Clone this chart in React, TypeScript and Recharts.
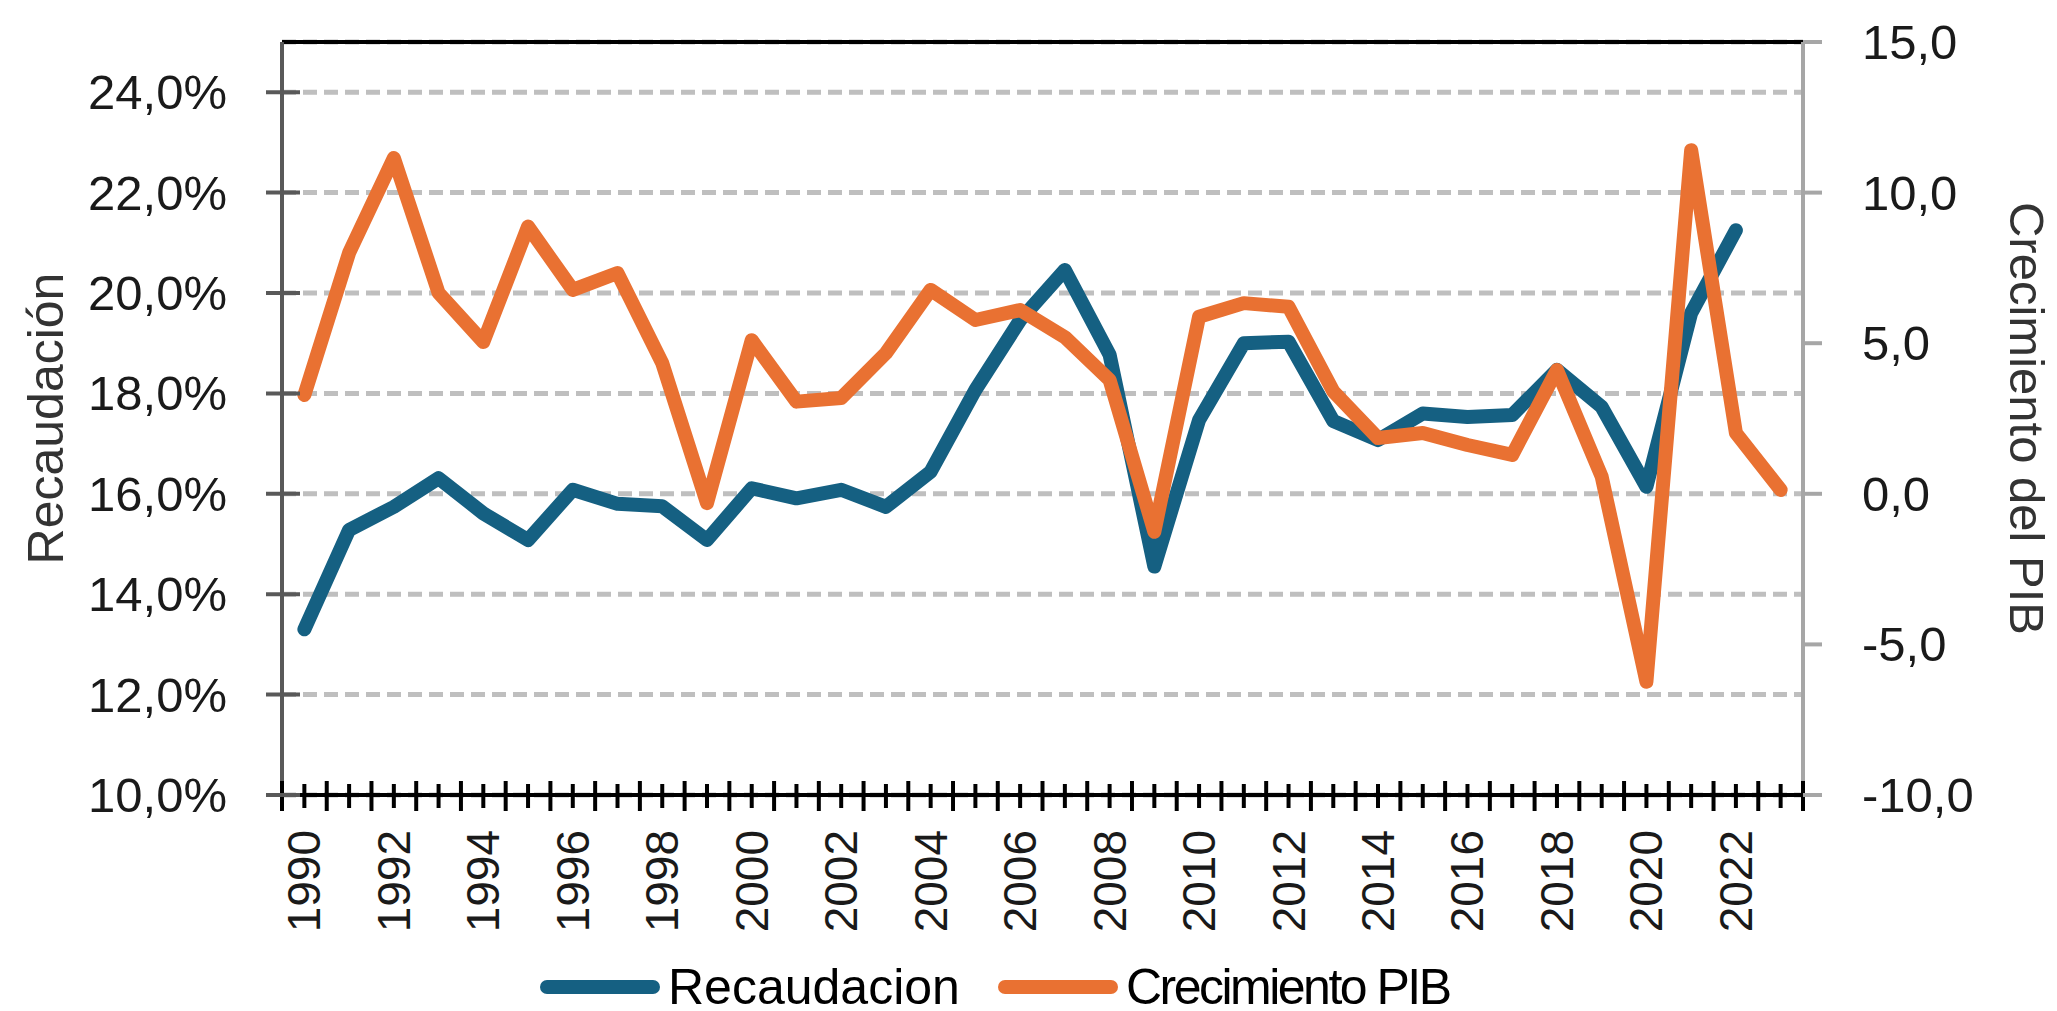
import { LineChart, Line, XAxis, YAxis, CartesianGrid, ReferenceLine, Legend, Label } from 'recharts';

const years = [
  1990, 1991, 1992, 1993, 1994, 1995, 1996, 1997, 1998, 1999,
  2000, 2001, 2002, 2003, 2004, 2005, 2006, 2007, 2008, 2009,
  2010, 2011, 2012, 2013, 2014, 2015, 2016, 2017, 2018, 2019,
  2020, 2021, 2022, 2023,
];

// % del PIB (eje izquierdo)
const recaudacion = [
  13.3, 15.28, 15.74, 16.31, 15.61, 15.08, 16.08, 15.8, 15.75, 15.08,
  16.11, 15.91, 16.08, 15.74, 16.44, 18.07, 19.46, 20.46, 18.77, 14.55,
  17.47, 19.0, 19.03, 17.45, 17.07, 17.6, 17.53, 17.57, 18.47, 17.73,
  16.14, 19.6, 21.25, null,
];

// crecimiento anual del PIB (eje derecho)
const crecimientoPIB = [
  3.28, 8.0, 11.15, 6.67, 5.04, 8.87, 6.77, 7.33, 4.34, -0.31,
  5.1, 3.06, 3.18, 4.67, 6.77, 5.77, 6.1, 5.2, 3.78, -1.26,
  5.88, 6.33, 6.21, 3.4, 1.85, 2.02, 1.62, 1.29, 4.11, 0.57,
  -6.24, 11.41, 2.02, 0.13,
];

const yearLabels = [1990, 1992, 1994, 1996, 1998, 2000, 2002, 2004, 2006, 2008, 2010, 2012, 2014, 2016, 2018, 2020, 2022];
const leftTicks = [10, 12, 14, 16, 18, 20, 22, 24];
const rightTicks = [-10, -5, 0, 5, 10, 15];

const data = years.map((year, i) => ({
  year,
  recaudacion: recaudacion[i],
  pib: crecimientoPIB[i],
}));

// tick marks on the year axis: category boundaries and category centres
const xTicks = years.flatMap((y) => [y - 0.5, y]).concat(years[years.length - 1] + 0.5);

const FONT = '"Liberation Sans", Arial, sans-serif';
const BLUE = '#156082';
const ORANGE = '#e97132';

const comma = (v: number) => v.toFixed(1).replace('.', ',');

const LeftTick = (props: any) => {
  const { x, y, payload } = props;
  return (
    <g>
      <line x1={x - 16} x2={x + 18} y1={y} y2={y} stroke="#595959" strokeWidth={4} />
      <text x={x - 55} y={y} textAnchor="end" dominantBaseline="central" fontSize={49} fill="#1a1a1a" fontFamily={FONT}>
        {comma(payload.value)}%
      </text>
    </g>
  );
};

const RightTick = (props: any) => {
  const { x, y, payload } = props;
  return (
    <g>
      <line x1={x} x2={x + 19} y1={y} y2={y} stroke="#a6a6a6" strokeWidth={4} />
      <text x={x + 59} y={y} textAnchor="start" dominantBaseline="central" fontSize={49} fill="#1a1a1a" fontFamily={FONT}>
        {comma(payload.value)}
      </text>
    </g>
  );
};

const YearTick = (props: any) => {
  const { x, y, payload } = props;
  const v = payload.value;
  const isCentre = Number.isInteger(v);
  const showLabel = isCentre && yearLabels.includes(v);
  return (
    <g>
      {isCentre ? (
        <line x1={x} x2={x} y1={y - 11} y2={y + 13} stroke="#000" strokeWidth={4} />
      ) : (
        <line x1={x} x2={x} y1={y - 14} y2={y + 16} stroke="#000" strokeWidth={4} />
      )}
      {showLabel && (
        <text
          x={x}
          y={y + 35}
          transform={`rotate(-90, ${x}, ${y + 35})`}
          textAnchor="end"
          dominantBaseline="central"
          fontSize={46}
          fill="#1a1a1a"
          fontFamily={FONT}
        >
          {v}
        </text>
      )}
    </g>
  );
};

const legendItems = [
  { name: 'Recaudacion', color: BLUE, spacing: 0 },
  { name: 'Crecimiento PIB', color: ORANGE, spacing: -2.5 },
];

const renderLegend = () => (
  <div
    style={{
      display: 'flex',
      justifyContent: 'flex-start',
      alignItems: 'center',
      height: 48,
      paddingLeft: 540,
      fontFamily: FONT,
      fontSize: 50,
      color: '#000',
      gap: 38,
    }}
  >
    {legendItems.map((item) => (
      <div key={item.name} style={{ display: 'flex', alignItems: 'center' }}>
        <div style={{ width: 120, height: 14, borderRadius: 7, background: item.color, marginRight: 8 }} />
        <span style={{ lineHeight: '48px', letterSpacing: item.spacing }}>{item.name}</span>
      </div>
    ))}
  </div>
);

export default function App() {
  return (
    <div style={{ position: 'absolute', left: 0, top: 0, width: 2057, height: 1011, background: '#fff' }}>
      <LineChart width={2057} height={1011} data={data} margin={{ top: 42, right: 0, bottom: 0, left: 0 }}>
        <CartesianGrid
          yAxisId="left"
          vertical={false}
          stroke="#bfbfbf"
          strokeWidth={5}
          strokeDasharray="14 7"
        />
        <XAxis
          dataKey="year"
          type="number"
          domain={[1989.5, 2023.5]}
          ticks={xTicks}
          interval={0}
          height={168}
          tickSize={0}
          tickMargin={0}
          tickLine={false}
          axisLine={{ stroke: '#000', strokeWidth: 4 }}
          tick={<YearTick />}
        />
        <YAxis
          yAxisId="left"
          orientation="left"
          width={282}
          domain={[10, 25]}
          ticks={leftTicks}
          interval={0}
          tickSize={0}
          tickMargin={0}
          tickLine={false}
          axisLine={{ stroke: '#595959', strokeWidth: 4 }}
          tick={<LeftTick />}
        >
          <Label
            content={(p: any) => {
              const vb = p.viewBox || { x: 0, y: 42, width: 282, height: 753 };
              const cx = 46;
              const cy = vb.y + vb.height / 2;
              return (
                <text x={cx} y={cy} transform={`rotate(-90, ${cx}, ${cy})`} textAnchor="middle" dominantBaseline="central" fontSize={50} fill="#333333" fontFamily={FONT}>
                  Recaudación
                </text>
              );
            }}
          />
        </YAxis>
        <YAxis
          yAxisId="right"
          orientation="right"
          width={254}
          domain={[-10, 15]}
          ticks={rightTicks}
          interval={0}
          tickSize={0}
          tickMargin={0}
          tickLine={false}
          axisLine={{ stroke: '#a6a6a6', strokeWidth: 4 }}
          tick={<RightTick />}
        >
          <Label
            content={(p: any) => {
              const vb = p.viewBox || { x: 1803, y: 42, width: 254, height: 753 };
              const cx = vb.x + 224;
              const cy = vb.y + vb.height / 2;
              return (
                <text x={cx} y={cy} transform={`rotate(90, ${cx}, ${cy})`} textAnchor="middle" dominantBaseline="central" fontSize={49} fill="#333333" fontFamily={FONT}>
                  Crecimiento del PIB
                </text>
              );
            }}
          />
        </YAxis>
        <ReferenceLine yAxisId="left" y={25} stroke="#000" strokeWidth={4} />
        <Line
          yAxisId="left"
          type="linear"
          dataKey="recaudacion"
          name="Recaudacion"
          stroke={BLUE}
          strokeWidth={14}
          strokeLinejoin="round"
          strokeLinecap="round"
          dot={false}
          activeDot={false}
          isAnimationActive={false}
        />
        <Line
          yAxisId="right"
          type="linear"
          dataKey="pib"
          name="Crecimiento PIB"
          stroke={ORANGE}
          strokeWidth={14}
          strokeLinejoin="round"
          strokeLinecap="round"
          dot={false}
          activeDot={false}
          isAnimationActive={false}
        />
        <Legend verticalAlign="bottom" content={renderLegend} />
      </LineChart>
    </div>
  );
}
